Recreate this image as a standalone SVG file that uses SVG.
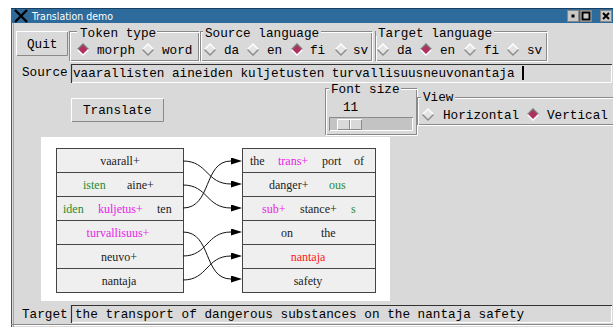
<svg xmlns="http://www.w3.org/2000/svg" width="613" height="327" viewBox="0 0 613 327">
<style>
.mono{font-family:"Liberation Mono","DejaVu Sans Mono",monospace;font-size:12.7px;fill:#000}
.ser{font-family:"Liberation Serif","DejaVu Serif",serif;font-size:12px;fill:#222}
.tt{font-family:"DejaVu Sans Condensed","Liberation Sans",sans-serif;font-size:10.5px;fill:#fff}
.g{fill:#2a8a2a}.m{fill:#e81ee8}.r{fill:#ff2020}
.edge{fill:none;stroke:#111;stroke-width:1}
.cell{fill:#efefef;stroke:#444;stroke-width:1}
.dk{stroke:#8a8a8a;fill:none}.lt{stroke:#fff;fill:none}
</style>
<defs>
<marker id="ah" markerUnits="userSpaceOnUse" markerWidth="12" markerHeight="8" refX="0" refY="3.5" orient="auto"><path d="M0,0 L11,3.5 L0,7 z" fill="#000"/></marker>
<g id="rOff"><polygon points="0,-5.5 5.5,0 0,5.5 -5.5,0" fill="#e4e4e4"/><polyline points="-5.5,0 0,-5.5 5.5,0" stroke="#fff" stroke-width="1.4" fill="none"/><polyline points="-5.5,0 0,5.5 5.5,0" stroke="#8a8a8a" stroke-width="1.4" fill="none"/></g>
<g id="rOn"><polygon points="0,-5.5 5.5,0 0,5.5 -5.5,0" fill="#b03060"/><polyline points="-5.5,0 0,-5.5 5.5,0" stroke="#7a7a7a" stroke-width="1.4" fill="none"/><polyline points="-5.5,0 0,5.5 5.5,0" stroke="#fff" stroke-width="1.4" fill="none"/></g>
</defs>
<rect width="613" height="327" fill="#fff"/>
<g id="window">
<rect x="11" y="9" width="602" height="318" fill="#d9d9d9"/>
<line x1="11.5" y1="9" x2="11.5" y2="327" stroke="#555"/>
<line x1="13.5" y1="23" x2="13.5" y2="327" stroke="#a8a8a8"/>
<rect x="11" y="9" width="602" height="14" fill="#2d6b9c"/>
<line x1="11" y1="8.5" x2="613" y2="8.5" stroke="#1a3f60"/>
<path d="M15,10 L27,22 M27,10 L15,22" stroke="#000" stroke-width="2.4"/>
<text class="tt" x="32" y="19.5" textLength="81">Translation demo</text>
<rect x="567.5" y="10.5" width="11" height="11" fill="#c8c8c8" stroke="#888"/>
<rect x="571.5" y="14.5" width="3" height="3" fill="#000"/>
<rect x="580.5" y="10.5" width="11" height="11" fill="#c8c8c8" stroke="#888"/>
<rect x="582.5" y="12.5" width="7" height="7" fill="none" stroke="#000" stroke-width="2"/>
<rect x="600.5" y="10.5" width="11" height="11" fill="#c8c8c8" stroke="#888"/>
<path d="M603,13 L609,19 M609,13 L603,19" stroke="#000" stroke-width="2"/>
<line x1="11" y1="324.5" x2="613" y2="324.5" stroke="#8a8a8a"/>
<line x1="14" y1="325.5" x2="613" y2="325.5" stroke="#fff"/>
</g>
<g id="quit">
<rect x="16" y="31" width="52" height="25" fill="#d9d9d9"/>
<polyline class="lt" points="16.5,55.5 16.5,31.5 67.5,31.5"/>
<polyline class="dk" points="17,55.5 67.5,55.5 67.5,32"/>
<text class="mono" x="27" y="47.5">Quit</text>
</g>
<g id="token-type">
<rect x="69.5" y="31.5" width="129" height="29" class="dk"/>
<rect x="70.5" y="32.5" width="129" height="29" class="lt"/>
<rect x="77" y="27" width="80" height="9" fill="#d9d9d9"/>
<text class="mono" x="80" y="37">Token type</text>
<use href="#rOn" x="83" y="49.5"/><text class="mono" x="97" y="53.5">morph</text>
<use href="#rOff" x="148" y="49.5"/><text class="mono" x="162" y="53.5">word</text>
</g>
<g id="source-language">
<rect x="200.5" y="31.5" width="171" height="29" class="dk"/>
<rect x="201.5" y="32.5" width="171" height="29" class="lt"/>
<rect x="203" y="27" width="118" height="9" fill="#d9d9d9"/>
<text class="mono" x="205" y="37">Source language</text>
<use href="#rOff" x="210" y="49.5"/><text class="mono" x="224" y="53.5">da</text>
<use href="#rOff" x="253" y="49.5"/><text class="mono" x="267" y="53.5">en</text>
<use href="#rOn" x="297" y="49.5"/><text class="mono" x="310" y="53.5">fi</text>
<use href="#rOff" x="341" y="49.5"/><text class="mono" x="353" y="53.5">sv</text>
</g>
<g id="target-language">
<rect x="375.5" y="31.5" width="171" height="29" class="dk"/>
<rect x="376.5" y="32.5" width="171" height="29" class="lt"/>
<rect x="376" y="27" width="118" height="9" fill="#d9d9d9"/>
<text class="mono" x="378" y="37">Target language</text>
<use href="#rOff" x="383" y="49.5"/><text class="mono" x="397" y="53.5">da</text>
<use href="#rOn" x="426" y="49.5"/><text class="mono" x="440" y="53.5">en</text>
<use href="#rOff" x="470" y="49.5"/><text class="mono" x="484" y="53.5">fi</text>
<use href="#rOff" x="513" y="49.5"/><text class="mono" x="527" y="53.5">sv</text>
</g>
<g id="source">
<text class="mono" x="22" y="75.5">Source</text>
<rect x="71" y="64" width="541" height="19" fill="#d9d9d9"/>
<polyline points="71.5,83 71.5,64.5 612,64.5" fill="none" stroke="#333" stroke-width="1.2"/>
<polyline class="lt" points="72,82.5 611.5,82.5 611.5,65"/>
<text class="mono" x="73" y="77">vaarallisten aineiden kuljetusten turvallisuusneuvonantaja</text>
<line x1="523" y1="66" x2="523" y2="80" stroke="#000" stroke-width="2"/>
</g>
<g id="translate">
<rect x="71" y="98" width="93" height="24" fill="#d9d9d9"/>
<polyline class="lt" points="71.5,121.5 71.5,98.5 163.5,98.5"/>
<polyline class="dk" points="72,121.5 163.5,121.5 163.5,99"/>
<text class="mono" x="83" y="114">Translate</text>
</g>
<g id="font-size">
<rect x="325.5" y="88.5" width="91" height="46" class="dk"/>
<rect x="326.5" y="89.5" width="91" height="46" class="lt"/>
<rect x="329" y="83" width="72" height="9" fill="#d9d9d9"/>
<text class="mono" x="331" y="93">Font size</text>
<text class="mono" x="343" y="111">11</text>
<rect x="329" y="117" width="84" height="14" fill="#c3c3c3"/>
<polyline points="329.5,131 329.5,117.5 413,117.5" fill="none" stroke="#8a8a8a"/>
<polyline class="lt" points="330,130.5 412.5,130.5 412.5,118"/>
<rect x="337" y="119" width="25" height="11" fill="#d9d9d9"/>
<polyline class="lt" points="337.5,129.5 337.5,119.5 361.5,119.5"/>
<polyline class="dk" points="338,129.5 361.5,129.5 361.5,120"/>
<line x1="349.5" y1="120" x2="349.5" y2="129" stroke="#8a8a8a"/>
<line x1="350.5" y1="120" x2="350.5" y2="129" stroke="#fff"/>
</g>
<g id="view">
<rect x="417.5" y="97.5" width="196" height="27" class="dk"/>
<rect x="418.5" y="98.5" width="196" height="27" class="lt"/>
<rect x="421" y="93" width="34" height="9" fill="#d9d9d9"/>
<text class="mono" x="423" y="101">View</text>
<use href="#rOff" x="428" y="114.5"/><text class="mono" x="443" y="118.5">Horizontal</text>
<use href="#rOn" x="533" y="114.5"/><text class="mono" x="547" y="118.5">Vertical</text>
</g>
<rect x="41" y="137" width="349" height="164" fill="#fff"/>
<g id="source-tokens">
<rect class="cell" x="56.5" y="148.5" width="127" height="144"/>
<path d="M56.5,172.5H183.5M56.5,196.5H183.5M56.5,220.5H183.5M56.5,244.5H183.5M56.5,268.5H183.5" stroke="#444" fill="none"/>
<text class="ser" x="120" y="165" text-anchor="middle">vaarall+</text>
<text class="ser g" x="83" y="189">isten</text><text class="ser" x="127" y="189">aine+</text>
<text class="ser g" x="63" y="213">iden</text><text class="ser m" x="98" y="213">kuljetus+</text><text class="ser" x="157" y="213">ten</text>
<text class="ser m" x="118" y="237" text-anchor="middle">turvallisuus+</text>
<text class="ser" x="119" y="261" text-anchor="middle">neuvo+</text>
<text class="ser" x="119" y="285" text-anchor="middle">nantaja</text>
</g>
<g id="target-tokens">
<rect class="cell" x="242.5" y="148.5" width="133" height="144"/>
<path d="M242.5,172.5H375.5M242.5,196.5H375.5M242.5,220.5H375.5M242.5,244.5H375.5M242.5,268.5H375.5" stroke="#444" fill="none"/>
<text class="ser" x="250" y="165">the</text><text class="ser m" x="278" y="165">trans+</text><text class="ser" x="322" y="165">port</text><text class="ser" x="354" y="165">of</text>
<text class="ser" x="269" y="189">danger+</text><text class="ser g" x="329" y="189">ous</text>
<text class="ser m" x="262" y="213">sub+</text><text class="ser" x="300" y="213">stance+</text><text class="ser g" x="351" y="213">s</text>
<text class="ser" x="281" y="237">on</text><text class="ser" x="321" y="237">the</text>
<text class="ser r" x="308" y="261" text-anchor="middle">nantaja</text>
<text class="ser" x="308" y="285" text-anchor="middle">safety</text>
</g>
<g id="connectors">
<path class="edge" marker-end="url(#ah)" d="M183,161 C208,161 206,184 231,184"/>
<path class="edge" marker-end="url(#ah)" d="M183,185 C208,185 206,208 231,208"/>
<path class="edge" marker-end="url(#ah)" d="M183,208 C212,208 203,161 231,161"/>
<path class="edge" marker-end="url(#ah)" d="M183,232 C212,232 203,279 231,279"/>
<path class="edge" marker-end="url(#ah)" d="M183,256 C208,256 206,232 231,232"/>
<path class="edge" marker-end="url(#ah)" d="M183,280 C208,280 206,256 231,256"/>
</g>
<g id="target">
<text class="mono" x="22" y="318">Target</text>
<rect x="71" y="305" width="541" height="18" fill="#d9d9d9"/>
<polyline points="71.5,323 71.5,305.5 612,305.5" fill="none" stroke="#333" stroke-width="1.2"/>
<polyline class="lt" points="72,322.5 611.5,322.5 611.5,306"/>
<text class="mono" x="75" y="318">the transport of dangerous substances on the nantaja safety</text>
</g>
</svg>
